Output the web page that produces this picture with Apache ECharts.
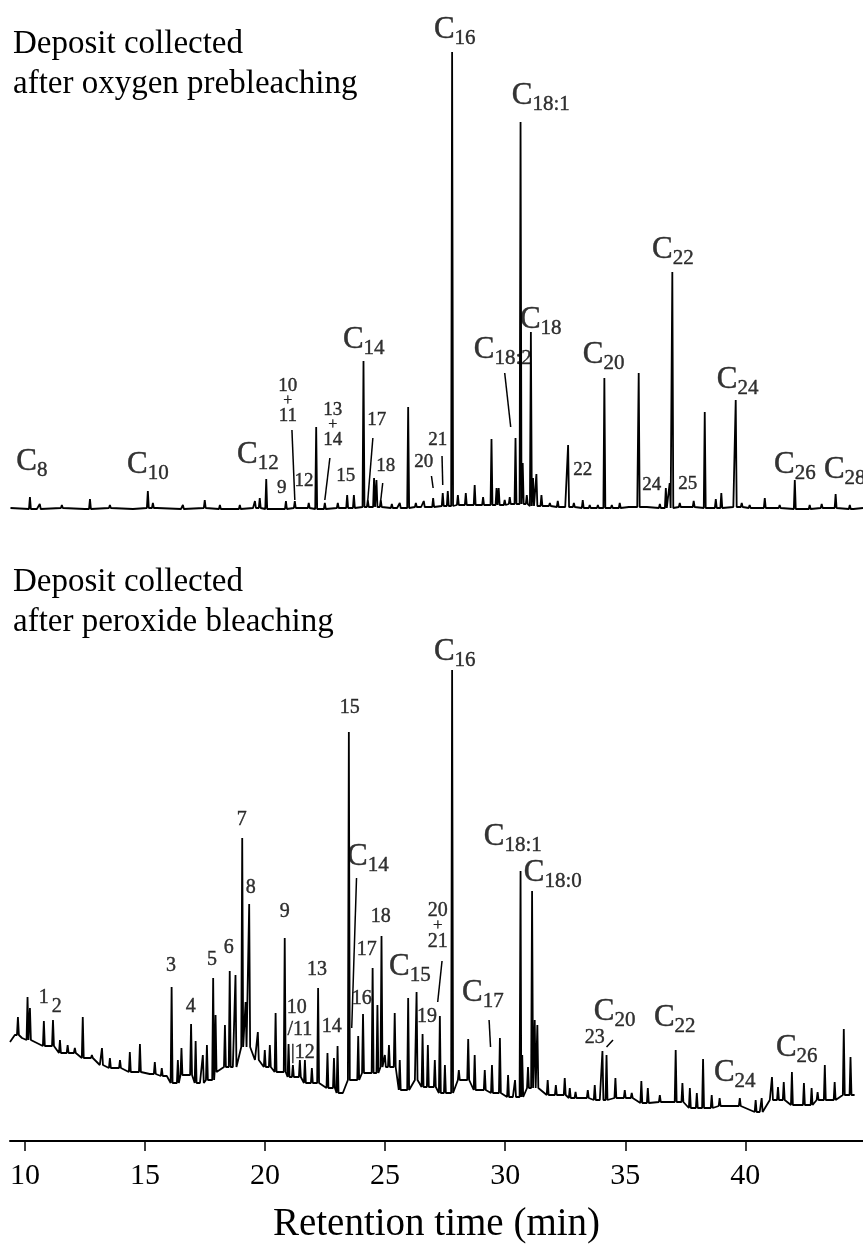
<!DOCTYPE html>
<html lang="en">
<head>
  <meta charset="UTF-8">
  <title>chromatograms</title>
  <style>
    * { padding: 0; margin: 0; }
    body { background: #fff; }
    #charts { width: 863px; height: 1250px; }
  </style>
</head>
<body>
  <div id="charts"></div>
</body>
<script src="https://cdn.jsdelivr.net/npm/echarts@6/dist/echarts.min.js"></script>
<script type="text/javascript">
  // x axis (retention time, min)
  var xMin = 9.38, xMax = 44.9
  var tickValues = [10, 15, 20, 25, 30, 35, 40]

  // ---- oxygen prebleaching deposit (top trace) ----
  // baseline readings [time, signal]
  var topBase = [
    [9.4, 7], [10.5, 6], [11.5, 7], [12.5, 6], [13.5, 7], [14.5, 6], [15.5, 7], [16.5, 6],
    [17.5, 7], [18.5, 6], [19.5, 7], [20.5, 6], [21.5, 7], [22.5, 6], [23.5, 7], [24.5, 8],
    [25.5, 7], [26.5, 8], [27.5, 9], [28.5, 10], [29.5, 10], [30.5, 11], [31.5, 9], [32.5, 8],
    [33.5, 7], [34.5, 7], [35.5, 8], [36.5, 7], [37.5, 8], [38.5, 7], [39.5, 8], [40.5, 7],
    [41.5, 7], [42.5, 6], [43.5, 7], [44.5, 6], [44.9, 7]
  ]
  // peak apexes [time, signal]
  var topPeaks = [
    [10.21, 18], [10.62, 11], [11.54, 10], [12.71, 16], [13.54, 10], [15.12, 24], [15.33, 12],
    [16.58, 10], [17.49, 15], [18.12, 10], [18.95, 10], [19.58, 14], [19.78, 17], [20.05, 36],
    [20.87, 14], [21.24, 14], [21.82, 12], [22.13, 88], [22.49, 12], [23.03, 12], [23.42, 20],
    [23.70, 20], [24.10, 154], [24.28, 15], [24.54, 37], [24.64, 35], [24.82, 15], [25.28, 11],
    [25.61, 12], [25.96, 108], [26.28, 12], [26.61, 14], [27.00, 17], [27.40, 22], [27.61, 24],
    [27.79, 463], [28.03, 20], [28.36, 22], [28.73, 30], [29.08, 18], [29.43, 76], [29.64, 27],
    [29.73, 27], [29.98, 15], [30.19, 18], [30.43, 77], [30.64, 393], [30.73, 52], [30.90, 20],
    [31.07, 183], [31.16, 37], [31.30, 41], [31.51, 20], [31.86, 12], [32.19, 14], [32.62, 70],
    [32.86, 12], [33.23, 15], [33.52, 10], [33.86, 10], [34.13, 137], [34.44, 10], [34.77, 12],
    [35.19, 10], [35.56, 142], [35.94, 10], [36.44, 11], [36.69, 27], [36.85, 32], [36.96, 243],
    [37.27, 12], [37.52, 10], [37.85, 14], [38.31, 103], [38.77, 16], [39.00, 22], [39.60, 115],
    [39.85, 12], [40.18, 10], [40.81, 17], [41.43, 10], [42.06, 35], [42.68, 10], [43.18, 11],
    [43.76, 21], [44.35, 10]
  ]
  var topLabels = [
    ['C8', 10.29, 53], ['C10', 15.12, 50], ['C12', 19.70, 60], ['9', 20.70, 27],
    ['10\n+\n11', 20.95, 114], ['12', 21.62, 34], ['13\n+\n14', 22.82, 90], ['C14', 24.11, 175],
    ['15', 23.36, 39], ['17', 24.65, 95], ['18', 25.03, 49], ['20', 26.61, 53], ['21', 27.19, 75],
    ['C16', 27.90, 485], ['C18:2', 29.90, 165], ['C18:1', 31.48, 419], ['C18', 31.48, 195],
    ['22', 33.23, 45], ['C20', 34.10, 160], ['24', 36.10, 30], ['C22', 36.98, 265],
    ['25', 37.60, 31], ['C24', 39.68, 135], ['C26', 42.06, 50], ['C28', 44.14, 45]
  ]
  var topLeaders = [
    [[21.12, 85], [21.24, 15]], [[22.70, 57], [22.49, 15]], [[24.49, 77], [24.28, 15]],
    [[24.90, 32], [24.82, 15]], [[26.93, 39], [27.00, 27]], [[27.37, 59], [27.40, 30]],
    [[29.98, 142], [30.23, 88]]
  ]

  // ---- peroxide bleaching deposit (bottom trace) ----
  var botBase = [
    [9.38, 99], [9.58, 106], [9.88, 103], [10.33, 101], [11.04, 95], [11.75, 88], [12.50, 83],
    [13.12, 76], [13.83, 73], [14.50, 69], [15.20, 67], [15.91, 65], [16.16, 58], [16.66, 66],
    [17.29, 58], [17.70, 61], [17.99, 69], [18.66, 74], [19.24, 94], [19.58, 81], [20.07, 74],
    [20.62, 69], [21.03, 64], [21.99, 58], [22.70, 53], [23.24, 48], [23.53, 61], [24.24, 68],
    [25.20, 74], [25.74, 51], [26.24, 61], [26.86, 54], [27.57, 48], [28.11, 61], [28.94, 51],
    [29.57, 48], [30.32, 44], [31.44, 53], [32.07, 46], [33.11, 43], [33.94, 41], [34.77, 43],
    [36.02, 38], [36.85, 39], [38.10, 33], [39.35, 35], [40.60, 29], [41.02, 41], [42.26, 36],
    [43.51, 41], [44.55, 46]
  ]
  var botPeaks = [
    [9.71, 124], [10.11, 144], [10.21, 133], [10.79, 120], [11.17, 121], [11.46, 101], [11.78, 96],
    [12.08, 93], [12.41, 124], [12.79, 86], [13.21, 93], [13.54, 83], [13.96, 81], [14.37, 89],
    [14.79, 97], [15.41, 79], [15.70, 73], [16.11, 154], [16.37, 81], [16.52, 93], [16.92, 117],
    [17.11, 100], [17.41, 86], [17.58, 96], [17.84, 163], [17.94, 126], [18.33, 116], [18.53, 170],
    [18.77, 166], [19.05, 303], [19.19, 139], [19.34, 237], [19.70, 109], [19.99, 91], [20.20, 96],
    [20.44, 128], [20.82, 203], [20.98, 97], [21.16, 76], [21.45, 81], [21.66, 81], [21.95, 73],
    [22.21, 153], [22.60, 88], [22.87, 83], [23.02, 95], [23.49, 409], [23.88, 105], [24.08, 127],
    [24.48, 173], [24.68, 136], [24.85, 205], [24.99, 86], [25.16, 96], [25.40, 128], [25.61, 81],
    [25.96, 143], [26.31, 149], [26.56, 107], [26.78, 96], [27.07, 81], [27.28, 125], [27.49, 76],
    [27.79, 471], [28.07, 71], [28.46, 102], [28.73, 86], [29.15, 71], [29.45, 76], [29.78, 103],
    [30.12, 66], [30.41, 61], [30.64, 270], [30.71, 86], [30.95, 74], [31.12, 250], [31.23, 121],
    [31.34, 116], [31.77, 61], [32.11, 56], [32.48, 63], [32.69, 53], [32.93, 49], [33.44, 51],
    [33.73, 56], [34.05, 90], [34.22, 86], [34.59, 63], [34.98, 51], [35.27, 48], [35.67, 60],
    [35.94, 53], [36.44, 46], [37.10, 91], [37.38, 58], [37.69, 53], [37.98, 48], [38.24, 82],
    [38.60, 46], [38.93, 43], [39.77, 43], [40.43, 41], [40.68, 43], [41.11, 64], [41.36, 54],
    [41.60, 59], [41.94, 69], [42.44, 58], [42.76, 53], [43.01, 49], [43.31, 76], [43.72, 59],
    [44.10, 112], [44.38, 84]
  ]
  var botLabels = [
    ['1', 10.79, 143], ['2', 11.33, 134], ['3', 16.08, 175], ['4', 16.91, 134], ['5', 17.79, 181],
    ['6', 18.49, 193], ['7', 19.03, 321], ['8', 19.41, 253], ['9', 20.82, 229], ['10', 21.32, 133],
    ['/11', 21.45, 111], ['|12', 21.57, 88], ['13', 22.16, 171], ['14', 22.78, 114],
    ['15', 23.53, 433], ['16', 24.03, 142], ['17', 24.24, 191], ['18', 24.82, 224],
    ['C14', 24.28, 284], ['C15', 26.03, 174], ['19', 26.74, 124], ['20\n+\n21', 27.19, 215],
    ['C16', 27.90, 489], ['C17', 29.07, 148], ['C18:1', 30.32, 304], ['C18:0', 31.98, 268],
    ['23', 33.73, 103], ['C20', 34.56, 129], ['C22', 37.06, 123], ['C24', 39.56, 68],
    ['C26', 42.14, 93]
  ]
  var botLeaders = [
    [[23.81, 263], [23.61, 113]], [[27.37, 180], [27.19, 139]],
    [[29.33, 121], [29.39, 94]], [[34.49, 101], [34.22, 94]]
  ]

  var serif = '"Liberation Serif", "DejaVu Serif", serif'

  function nearestBase(base, t) {
    var best = base[0]
    base.forEach(function (p) {
      if (Math.abs(p[0] - t) < Math.abs(best[0] - t)) best = p
    })
    return best[1]
  }

  // polyline through the baseline readings with each peak drawn as a narrow spike
  function buildTrace(base, peaks) {
    var w = 0.04
    var pts = base.filter(function (b) {
      return !peaks.some(function (p) { return Math.abs(p[0] - b[0]) < 0.06 })
    }).map(function (b) { return [b[0], b[1]] })
    peaks.forEach(function (p) {
      var foot = nearestBase(base, p[0])
      pts.push([p[0] - w, foot], [p[0], p[1]], [p[0] + w, foot])
    })
    pts.sort(function (a, b) { return a[0] - b[0] })
    return pts
  }

  function labelText(name) {
    if (name.charAt(0) === 'C') return '{c|C}{s|' + name.substr(1) + '}'
    return name.split('\n').map(function (s) {
      return s === '+' ? '{p|+}' : '{n|' + s + '}'
    }).join('\n')
  }

  function labelSeries(list, idx, numSize) {
    var ink = { color: '#000', textBorderColor: '#000', textBorderWidth: 0.4 }
    return {
      type: 'scatter', xAxisIndex: idx, yAxisIndex: idx, symbolSize: 0, silent: true,
      z: 5,
      data: list.map(function (l) { return { name: l[0], value: [l[1], l[2]] } }),
      label: {
        show: true, position: 'inside', color: '#000',
        formatter: function (p) { return labelText(p.name) },
        rich: {
          c: Object.assign({ fontFamily: serif, fontSize: 31, lineHeight: 32, verticalAlign: 'top' }, ink),
          s: Object.assign({ fontFamily: serif, fontSize: 21, lineHeight: 21, padding: [14, 0, 0, 0], verticalAlign: 'top' }, ink),
          n: Object.assign({ fontFamily: serif, fontSize: numSize, lineHeight: numSize - 1 }, ink),
          p: Object.assign({ fontFamily: serif, fontSize: numSize - 3, lineHeight: 12 }, ink)
        }
      }
    }
  }

  function leaderSeries(list, idx) {
    return {
      type: 'lines', coordinateSystem: 'cartesian2d', xAxisIndex: idx, yAxisIndex: idx,
      silent: true, z: 4,
      lineStyle: { color: '#000', width: 1.5, opacity: 1 },
      data: list.map(function (c) { return { coords: c } })
    }
  }

  var titleStyle = { fontFamily: serif, fontSize: 33, fontWeight: 'normal', lineHeight: 40, color: '#000' }

  var myChart = echarts.init(document.getElementById('charts'))
  var option = {
    backgroundColor: '#fff',
    animation: false,
    title: [
      { text: 'Deposit collected\nafter oxygen prebleaching', left: 8, top: 19, textStyle: titleStyle },
      { text: 'Deposit collected\nafter peroxide bleaching', left: 8, top: 557, textStyle: titleStyle }
    ],
    grid: [
      { left: 10, right: 0, top: 0, height: 515 },
      { left: 10, right: 0, top: 600, height: 541 }
    ],
    xAxis: [
      { gridIndex: 0, type: 'value', min: xMin, max: xMax, show: false },
      { gridIndex: 1, type: 'value', min: xMin, max: xMax,
        name: 'Retention time (min)', nameLocation: 'middle', nameGap: 64,
        nameTextStyle: { fontFamily: serif, fontSize: 39, color: '#000' },
        axisLine: { show: true, lineStyle: { color: '#000', width: 2 } },
        axisTick: { show: true, length: 10, lineStyle: { color: '#000', width: 1.5 }, customValues: tickValues },
        axisLabel: { fontFamily: serif, fontSize: 30, color: '#000', margin: 20, customValues: tickValues },
        splitLine: { show: false } }
    ],
    yAxis: [
      { gridIndex: 0, type: 'value', min: 0, max: 515, show: false },
      { gridIndex: 1, type: 'value', min: 0, max: 541, show: false }
    ],
    series: [
      { type: 'line', xAxisIndex: 0, yAxisIndex: 0, showSymbol: false, silent: true,
        lineStyle: { color: '#000', width: 1.8 }, data: buildTrace(topBase, topPeaks) },
      { type: 'line', xAxisIndex: 1, yAxisIndex: 1, showSymbol: false, silent: true,
        lineStyle: { color: '#000', width: 1.8 }, data: buildTrace(botBase, botPeaks) },
      labelSeries(topLabels, 0, 19),
      labelSeries(botLabels, 1, 20),
      leaderSeries(topLeaders, 0),
      leaderSeries(botLeaders, 1)
    ]
  }
  myChart.setOption(option)
</script>
</html>
